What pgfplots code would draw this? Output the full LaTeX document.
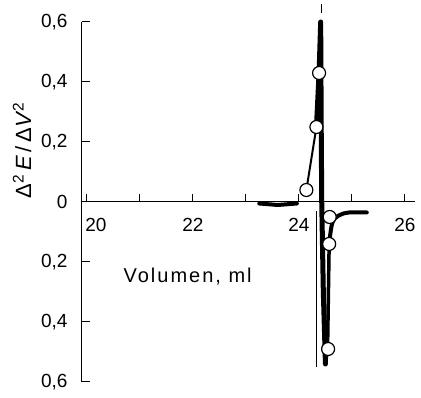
\documentclass[border=0pt]{standalone}
\usepackage{pgfplots}
\pgfplotsset{compat=1.18}
\usepackage{fontspec}
\setmainfont{Liberation Sans}
\begin{document}
\fontsize{19}{22}\selectfont
\begin{tikzpicture}
\useasboundingbox (-82pt,-16pt) rectangle (339pt,382pt);
\begin{axis}[
  scale only axis, width=333pt, height=360pt,
  xmin=19.906, xmax=26.19, ymin=-0.6, ymax=0.6,
  axis x line*=middle, axis y line*=left,
  axis line style={-, line width=1pt},
  tick style={line width=1pt, black},
  major tick length=8pt,
  tick align=inside,
  xtick={20,21,22,23,24,25,26},
  xticklabels={\hspace*{18pt}20,,22,,24,,26},
  xticklabel style={anchor=north, yshift=-10pt},
  ytick={-0.6,-0.4,-0.2,0,0.2,0.4,0.6},
  yticklabels={{0,6},{0,4},{0,2},0,{0,2},{0,4},{0,6}},
  yticklabel style={anchor=east, xshift=-8pt},
  /pgf/number format/assume math mode=true,
  xlabel={\fontsize{20}{24}\selectfont\addfontfeature{LetterSpace=10}Volumen, ml},
  xlabel style={at={(axis cs:21.9,-0.25)}, anchor=center},
  ylabel={\fontsize{22}{26}\selectfont Δ\textsuperscript{2}\,\textit{E}\,/\,Δ\textit{V}\textsuperscript{2}},
  ylabel style={at={(rel axis cs:-0.18,0.644)}, anchor=center, rotate=0},
  clip=false,
]
% reference vertical marks
\addplot[black, line width=0.8pt] coordinates {(24.33,-0.03) (24.33,-0.55)};
\addplot[black, line width=0.8pt] coordinates {(24.42,0.63) (24.42,0.66)};
% flat thick segment
\addplot[black, line width=4pt, line cap=round] coordinates {(23.25,-0.005) (23.6,-0.01) (23.96,-0.005)};
% thin rise
\addplot[black, line width=2pt] coordinates {(24.14,0.04) (24.33,0.25)};
% thick main curve
\addplot[black, line width=5pt, line cap=round, line join=round] coordinates {
 (24.33,0.25) (24.38,0.43) (24.41,0.60) (24.42,0.25) (24.43,0) (24.46,-0.3) (24.50,-0.54)};
\addplot[black, line width=3.5pt, line cap=round, line join=round] coordinates {
 (24.50,-0.54) (24.54,-0.49) (24.57,-0.14)};
\addplot[black, line width=4pt, line cap=round, smooth, tension=0.6] coordinates {
 (24.57,-0.14) (24.63,-0.07) (24.75,-0.045) (24.95,-0.035) (25.28,-0.035)};
% data circles
\addplot[only marks, mark=*, mark size=6.5pt, mark options={fill=white, draw=black, line width=1.2pt}] coordinates {
 (24.14,0.04) (24.33,0.25) (24.38,0.43) (24.58,-0.05) (24.57,-0.14) (24.55,-0.49)};
\end{axis}
\end{tikzpicture}
\end{document}
